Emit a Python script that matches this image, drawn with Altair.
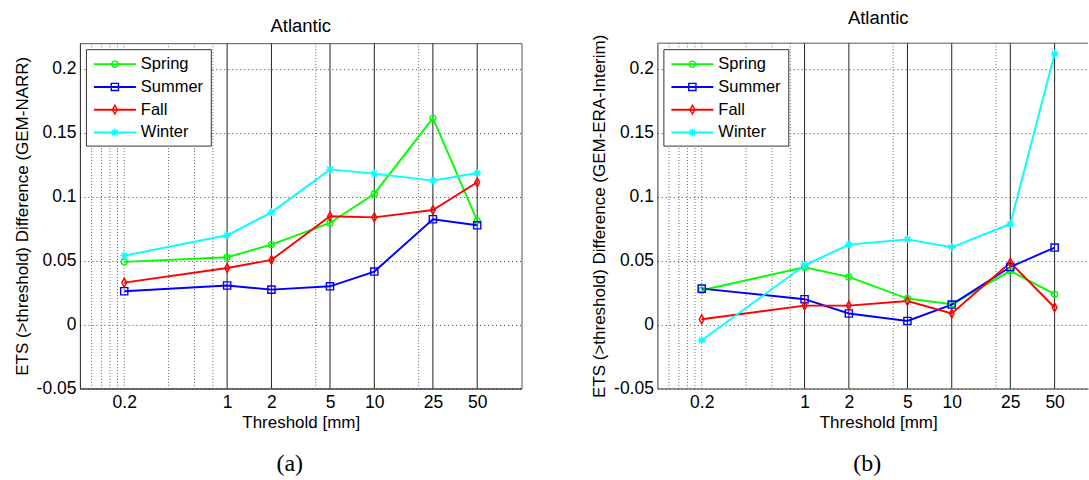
import altair as alt
import pandas as pd

FONT = "Liberation Sans"

thresholds = [0.2, 1, 2, 5, 10, 25, 50]
seasons = ["Spring", "Summer", "Fall", "Winter"]
colors = ["#00ff00", "#0000ff", "#ff0000", "#00ffff"]

# Panel (a): GEM-NARR
a_spring = [0.049, 0.0526, 0.0625, 0.0794, 0.1023, 0.1614, 0.0812]
a_summer = [0.026, 0.0305, 0.0273, 0.0299, 0.0414, 0.0823, 0.0776]
a_fall = [0.0328, 0.0442, 0.0505, 0.0846, 0.0838, 0.0895, 0.1112]
a_winter = [0.0539, 0.0698, 0.0877, 0.1213, 0.118, 0.1125, 0.1185]

# Panel (b): GEM-ERA-Interim
b_spring = [0.0268, 0.0448, 0.0372, 0.0203, 0.0159, 0.0419, 0.0237]
b_summer = [0.0281, 0.0198, 0.0086, 0.0028, 0.0156, 0.045, 0.0602]
b_fall = [0.0041, 0.0148, 0.0148, 0.0184, 0.0086, 0.0484, 0.0133]
b_winter = [-0.0123, 0.0463, 0.0625, 0.0666, 0.0604, 0.0786, 0.2117]

x_ticks = [0.2, 1, 2, 5, 10, 25, 50]
y_ticks = [-0.05, 0, 0.05, 0.1, 0.15, 0.2]
major_grid = [1, 2, 5, 10, 25, 50]
minor_grid = [0.12, 0.14, 0.16, 0.18, 0.2, 0.4, 0.6, 0.8, 4, 20]

shapes = [
    "M0.75,0A0.75,0.75 0 1,1 -0.75,0A0.75,0.75 0 1,1 0.75,0Z",
    "M-0.9,-0.9H0.9V0.9H-0.9Z",
    "M0,-1.1L0.6,0L0,1.1L-0.6,0Z",
    "M-1,0H1M0,-1V1M-0.7,-0.7L0.7,0.7M-0.7,0.7L0.7,-0.7",
]

H = 345.6
FULLW = 442


def make_panel(series, ytitle, caption, width, xmax, clipped):
    rows = []
    for s, arr in zip(seasons, series):
        for t, v in zip(thresholds, arr):
            rows.append({"threshold": t, "value": v, "season": s})
    df = pd.DataFrame(rows)

    xs = alt.Scale(type="log", domain=[0.1, xmax], nice=False)
    ys = alt.Scale(domain=[-0.05, 0.22], nice=False, zero=False)
    xaxis = alt.Axis(values=x_ticks, labelExpr="'' + datum.value", title="Threshold [mm]",
                     grid=False, ticks=False, labelPadding=5, titlePadding=4,
                     titleX=FULLW / 2)
    yaxis = alt.Axis(values=y_ticks, labelExpr="'' + datum.value", title=ytitle,
                     grid=True, gridDash=[1, 3], gridColor="#444", gridOpacity=1,
                     ticks=False, labelPadding=4, titlePadding=5)
    X = alt.X("threshold:Q", scale=xs, axis=xaxis)
    Y = alt.Y("value:Q", scale=ys, axis=yaxis)
    color = alt.Color("season:N", scale=alt.Scale(domain=seasons, range=colors), legend=None)
    shape = alt.Shape("season:N", scale=alt.Scale(domain=seasons, range=shapes), legend=None)

    minor = alt.Chart(pd.DataFrame({"threshold": minor_grid})).mark_rule(
        color="#666", strokeDash=[1, 2], strokeWidth=1).encode(x=X)
    major = alt.Chart(pd.DataFrame({"threshold": major_grid})).mark_rule(
        color="#222", strokeWidth=1).encode(x=X)
    lines = alt.Chart(df).mark_line(strokeWidth=1.9).encode(x=X, y=Y, color=color)
    points = alt.Chart(df).mark_point(filled=False, size=64, strokeWidth=1.4, opacity=1).encode(
        x=X, y=Y, color=color, shape=shape)

    one = pd.DataFrame({"t": [caption]})
    box = alt.Chart(one).mark_rect(fill="white", stroke="#333", strokeWidth=1).encode(
        x=alt.value(6.5), x2=alt.value(131.5), y=alt.value(6.5), y2=alt.value(103))
    leg = alt.Chart(pd.DataFrame({"season": seasons, "idx": list(range(4))})).transform_calculate(
        py="21 + 22.8*datum.idx")
    LY = alt.Y("py:Q", scale=None, axis=None)
    legrule = leg.mark_rule(strokeWidth=1.9).encode(
        x=alt.value(14), x2=alt.value(56), y=LY, color=color)
    legpt = leg.mark_point(filled=False, size=64, strokeWidth=1.4, opacity=1).encode(
        x=alt.value(35), y=LY, color=color, shape=shape)
    legtxt = leg.mark_text(align="left", baseline="middle", font=FONT, fontSize=16.5,
                           color="black").encode(x=alt.value(61), y=LY, text="season:N")
    cap = alt.Chart(one).mark_text(font="Liberation Serif", fontSize=24, baseline="middle",
                                   align="center", color="black").encode(
        x=alt.value(210), y=alt.value(421), text="t:N")

    layers = [minor, major]
    if clipped:
        top = alt.Chart(one).mark_rule(color="#555").encode(
            x=alt.value(0), x2=alt.value(width), y=alt.value(0))
        layers.append(top)
    layers += [lines, points, box, legrule, legpt, legtxt, cap]
    ch = alt.layer(*layers).properties(
        width=width, height=H,
        title=alt.TitleParams("Atlantic", font=FONT, fontSize=18.5, fontWeight="normal",
                              color="black", offset=7, dx=(FULLW - width) / 2),
    )
    if clipped:
        ch = ch.properties(view=alt.ViewBackground(stroke=None))
    return ch


pa = make_panel([a_spring, a_summer, a_fall, a_winter],
                "ETS (>threshold) Difference (GEM-NARR)", "(a)", FULLW, 100, False)
pb = make_panel([b_spring, b_summer, b_fall, b_winter],
                "ETS (>threshold) Difference (GEM-ERA-Interim)", "(b)", 431, 84.3, True)

chart = alt.hconcat(pa, pb, spacing=68).configure(
    padding={"left": 12, "top": 8, "right": 0, "bottom": 0},
    background="white",
).configure_view(stroke="#555", strokeWidth=1).configure_axis(
    labelFont=FONT, titleFont=FONT, labelFontSize=17.5, titleFontSize=17,
    labelColor="black", titleColor="black", titleFontWeight="normal",
    domainColor="#333", domainWidth=1,
)

chart.save("out.html", embed_options={"renderer": "svg", "actions": False})
